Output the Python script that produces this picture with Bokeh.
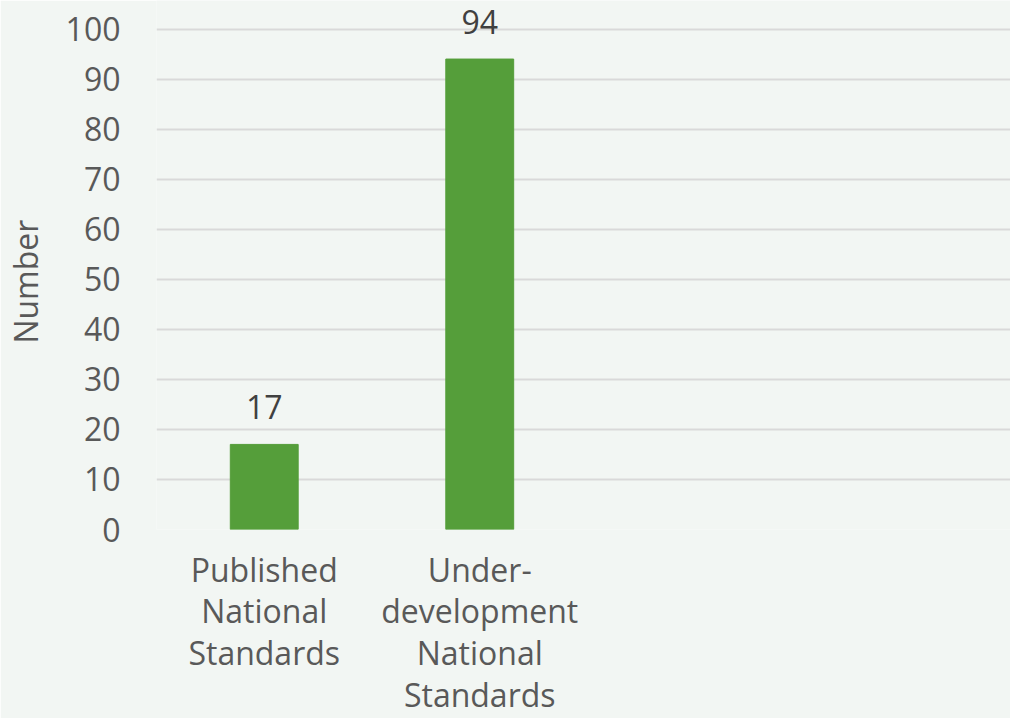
from bokeh.plotting import figure
from bokeh.models import ColumnDataSource, Label, FixedTicker, Range1d
from bokeh.embed import file_html
from bokeh.resources import INLINE

categories = ["Published\nNational\nStandards", "Under-\ndevelopment\nNational\nStandards"]
values = [17, 94]
y_ticks = [0, 10, 20, 30, 40, 50, 60, 70, 80, 90, 100]

FONT = "Open Sans"
BG = "#F2F6F3"
BAR = "#559E3A"
TICK_COLOR = "#595959"
LABEL_COLOR = "#404040"

xs = [i + 1 for i in range(len(categories))]
source = ColumnDataSource(data=dict(x=xs, top=values))

# the frame reaches the top edge so that the value labels are not clipped;
# ticks and grid lines stop at 100
p = figure(width=1010, height=718, output_backend="svg", toolbar_location=None,
           x_range=Range1d(0.5, 4.463), y_range=Range1d(0, 105.7),
           min_border_left=154, min_border_right=0, min_border_top=0, min_border_bottom=188)

p.background_fill_color = BG
p.border_fill_color = BG
p.outline_line_color = None

p.vbar(x="x", top="top", width=0.315, color=BAR, source=source)

for xv, yv in zip(xs, values):
    p.add_layout(Label(x=xv, y=yv, text=str(yv), y_offset=37,
                       text_align="center", text_baseline="alphabetic",
                       text_font=FONT, text_font_size="32px", text_color=LABEL_COLOR))

# grid
p.xgrid.grid_line_color = None
p.ygrid.grid_line_color = "#D9D9D9"
p.ygrid.grid_line_width = 2

# y axis
p.yaxis.ticker = FixedTicker(ticks=y_ticks)
p.yaxis.axis_line_color = None
p.yaxis.major_tick_line_color = None
p.yaxis.minor_tick_line_color = None
p.yaxis.major_label_standoff = 30
p.yaxis.major_label_text_font = FONT
p.yaxis.major_label_text_font_size = "32px"
p.yaxis.major_label_text_color = TICK_COLOR
p.yaxis.axis_label = "Number" + "\u00a0" * 4
p.yaxis.axis_label_text_font = FONT
p.yaxis.axis_label_text_font_size = "32px"
p.yaxis.axis_label_text_font_style = "normal"
p.yaxis.axis_label_text_color = TICK_COLOR
p.yaxis.axis_label_standoff = 16

# x axis
p.xaxis.ticker = FixedTicker(ticks=xs)
p.xaxis.major_label_overrides = {x: c for x, c in zip(xs, categories)}
p.xaxis.axis_line_color = None
p.xaxis.major_tick_line_color = None
p.xaxis.minor_tick_line_color = None
p.xaxis.major_label_standoff = 12
p.xaxis.major_label_text_font = FONT
p.xaxis.major_label_text_font_size = "32px"
p.xaxis.major_label_text_color = TICK_COLOR
p.xaxis.major_label_text_line_height = 0.97

open("out.html", "w").write(file_html(p, INLINE))
